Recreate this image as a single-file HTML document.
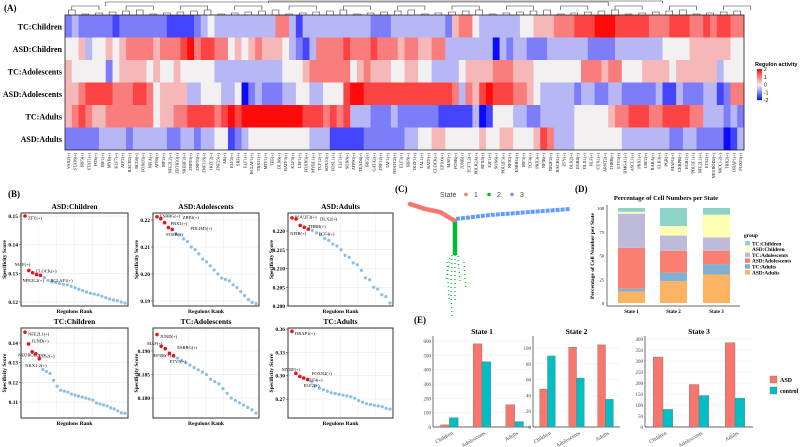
<!DOCTYPE html>
<html><head><meta charset="utf-8"><style>
html,body{margin:0;padding:0;background:#fff}
svg{display:block;font-family:"Liberation Serif",serif}
.b{font-weight:bold}
</style></head><body>
<svg id="fig" width="800" height="447" viewBox="0 0 800 447" xmlns="http://www.w3.org/2000/svg">
<g id="panelA"></g>
<g id="panelB"></g>
<g id="panelC"></g>
<g id="panelD"></g>
<g id="panelE"></g>
</svg>
<script>
// ===== Panel A data =====
const heatRows = ["TC:Children","ASD:Children","TC:Adolescents","ASD:Adolescents","TC:Adults","ASD:Adults"];
const heatCodes = [
"2322222122"+"2222211112"+"3433333333"+"3663133333"+"3333322233"+"3333332566"+"4333333445"+"5566677788"+"8777776667"+"7766767766",
"4453445456"+"6665666786"+"7766454565"+"5543213666"+"6766676665"+"6655663333"+"3330323322"+"2333333222"+"2333333344"+"4455555544",
"5444442455"+"5545445444"+"4433333333"+"3344456666"+"6645655544"+"5544333345"+"5556665554"+"4444446665"+"6644455554"+"5555553444",
"5567777666"+"7764555533"+"4443340232"+"2233443344"+"4788777777"+"7777777636"+"5787776654"+"3333323322"+"3322222311"+"3222331266",
"5676556666"+"6664556677"+"7767878888"+"8888877767"+"6733322232"+"2222211111"+"3014443322"+"3333344444"+"5667776677"+"7766333232",
"2222233332"+"3333322332"+"3344123444"+"4444443331"+"1111222222"+"3344554444"+"4544554445"+"7633344444"+"4433333332"+"2332222013"
];
const heatCols = ["VSX2(+)","STAT6(+)","IRF9(+)","STAT1(+)","FOS(+)","IRF1(+)","MYB(+)","KLF7(+)","ATF2(+)","BACH2(+)","BCL6(+)","FOXO3(+)","NFIA(+)","ATF6(+)","IRF2(+)","NFE2L2(+)","ZBTB20(+)","SREBF2(+)","ZNF83(+)","ZNF93(+)","ZNF318(+)","IKZF2(+)","ZNF25(+)","AR(+)","ELF2(+)","SRF(+)","ELF1(+)","BCLAF1(+)","TBX21(+)","MTF1(+)","TEF(+)","DLX6(+)","BATF3(+)","KLF5(+)","LEF1(+)","FOXN3(+)","MYBL1(+)","TCF12(+)","SOX10(+)","FOSL1(+)","ELF1(+)","SOX8(+)","ZFP90(+)","TEAD4(+)","IRF2(+)","GATA2(+)","ZNF12(+)","TAF1(+)","NFATC2(+)","ELF3(+)","IRF8(+)","IKZF1(+)","TAL1(+)","BATF(+)","CLOCK(+)","EP300(+)","MAF(+)","FOSB(+)","JUNB(+)","TCF7L2(+)","POLR2A(+)","RFX5(+)","E2F1(+)","SOX6(+)","POU2F3(+)","NFIC(+)","ESRRG(+)","IRF3(+)","TCF4(+)","PBX3(+)","NFIB(+)","NR2F2(+)","BACH1(+)","ZFY(+)","DLX2(+)","EGR4(+)","DLX1(+)","HLF(+)","CUX1(+)","ARNT2(+)","THRB(+)","ETV5(+)","HMGA1(+)","ASCL1(+)","PBX1(+)","USF2(+)","RARA(+)","ELK3(+)","PGR(+)","MAFG(+)","CEBPB(+)","EGR1(+)","POU3F1(+)","NFE2L1(+)","ETS2(+)","NEUROD2(+)","NKX1-2(+)","TBX2(+)","DRAP1(+)","FOXJ3(+)"];
const legendTicks = [2,1,0,-1,-2];

// ===== Panel B data =====
const bTitles = ["ASD:Children","ASD:Adolescents","ASD:Adults","TC:Children","TC:Adolescents","TC:Adults"];
const bRedNames = [
 ["ZFY(+)","MAF(+)","CLOCK(+)","NFE2L2(+)","BCLAF1(+)"],
 ["ESRRG(+)","ZBP2(+)","PBX1(+)","PDLIM5(+)","FOSB(+)"],
 ["POU2F3(+)","DLX2(+)","THRB(+)","NFIB(+)","TCF4(+)"],
 ["NFE2L1(+)","JUND(+)","NEUROD2(+)","ETS2(+)","NKX1-2(+)"],
 ["JUND(+)","MAF(+)","ESRRG(+)","EP300(+)","ETV5(+)"],
 ["DRAP1(+)","MYRF(+)","FOXN2(+)","ATF4(+)","ELF2(+)"]];
const bRedVals = [
 [0.150,0.1310,0.1302,0.1296,0.1293],
 [0.2212,0.2205,0.2190,0.2172,0.2165],
 [0.2235,0.2232,0.2215,0.2210,0.2205],
 [0.1455,0.1395,0.1355,0.1345,0.1320],
 [0.1935,0.1910,0.1905,0.1895,0.1890],
 [0.357,0.303,0.299,0.297,0.295]];
const bBlueVals = [
 [0.1285,0.1275,0.1270,0.1268,0.1265,0.1262,0.1260,0.1255,0.1250,0.1245,0.1240,0.1235,0.1230,0.1228,0.1225,0.1220,0.1215,0.1210,0.1207,0.1205,0.1200,0.1196],
 [0.2150,0.2145,0.2130,0.2120,0.2100,0.2090,0.2075,0.2055,0.2045,0.2030,0.2015,0.2000,0.1985,0.1980,0.1975,0.1960,0.1950,0.1935,0.1920,0.1905,0.1895,0.1890],
 [0.2202,0.2195,0.2190,0.2180,0.2175,0.2165,0.2160,0.2150,0.2135,0.2130,0.2115,0.2110,0.2095,0.2075,0.2070,0.2050,0.2045,0.2030,0.2025,0.2008],
 [0.1265,0.1255,0.1245,0.1210,0.1180,0.1160,0.1155,0.1150,0.1140,0.1135,0.1130,0.1125,0.1120,0.1115,0.1110,0.1095,0.1090,0.1085,0.1080,0.1070,0.1065,0.1055,0.1045,0.1043],
 [0.1885,0.1880,0.1875,0.1870,0.1865,0.1860,0.1855,0.1850,0.1840,0.1835,0.1830,0.1820,0.1810,0.1800,0.1795,0.1790,0.1785,0.1780,0.1775,0.1768],
 [0.292,0.287,0.284,0.282,0.280,0.278,0.277,0.276,0.275,0.274,0.273,0.271,0.268,0.266,0.264,0.263,0.262,0.261,0.260,0.258,0.257]];
const bTicks = [
 [0.12,0.13,0.14,0.15],[0.19,0.20,0.21,0.22],[0.200,0.205,0.210,0.215,0.220],
 [0.11,0.12,0.13,0.14],[0.180,0.185,0.190],[0.27,0.30,0.33,0.36]];
const bTickLabels = [
 ["0.12","0.13","0.14","0.15"],["0.19","0.20","0.21","0.22"],["0.200","0.205","0.210","0.215","0.220"],
 ["0.11","0.12","0.13","0.14"],["0.180","0.185","0.190"],["0.27","0.30","0.33","0.36"]];

// ===== Panel D data =====
const dStates = ["State 1","State 2","State 3"];
const dGroups = ["ASD:Adults","TC:Adults","ASD:Adolescents","TC:Adolescents","ASD:Children","TC:Children"];
const dPct = [
 [12,23,30],[3,9,11],[43,23,14],[36,16,14],[2,10,24],[4,19,7]];
const dTicks = [0,25,50,75,100];

// ===== Panel E data =====
const eStates = ["State 1","State 2","State 3"];
const eCats = ["Children","Adolescents","Adults"];
const eASD = [[15,580,155],[48,101,104],[318,193,383]];
const eControl = [[65,455,38],[90,62,35],[80,143,131]];
const eTicks = [[0,100,200,300,400,500,600],[0,20,40,60,80,100],[0,50,100,150,200,250,300,350,400]];

// ===== helpers =====
const NS="http://www.w3.org/2000/svg";
function mk(parent,tag,attrs,text){const e=document.createElementNS(NS,tag);for(const k in attrs)e.setAttribute(k,attrs[k]);if(text!==undefined)e.textContent=text;parent.appendChild(e);return e;}
function lin(d0,d1,r0,r1){return v=>r0+(v-d0)*(r1-r0)/(d1-d0);}
function heatColor(v){const t=Math.min(1,Math.abs(v)/2);
 if(v>=0){return `rgb(${Math.round(242+13*t)},${Math.round(240*(1-t)+10*t)},${Math.round(240*(1-t)+10*t)})`;}
 return `rgb(${Math.round(240*(1-t)+10*t)},${Math.round(240*(1-t)+10*t)},${Math.round(242+13*t)})`;}

// ===== Panel A =====
(function(){
 const g=document.getElementById('panelA');
 const t=mk(g,'text',{x:4,y:11,'font-size':9,'class':'b'},'(A)');
 
 
 const X0=65,X1=744,Y0=15,Y1=150;
 const nC=heatCodes[0].length, nR=heatRows.length;
 const cx=lin(0,nC,X0,X1), ry=lin(0,nR,Y0,Y1);
 const dg=mk(g,'g',{stroke:'#333','stroke-width':0.6,fill:'none'});
 
 
 for(let i=0;i<nC;i+=2){const a=cx(i+0.5),b=cx(i+1.5);const h=10+((i*7)%5);mk(dg,'path',{d:`M${a},15V${h}H${b}V15`});}
 for(let i=0;i<nC;i+=8){const a=cx(i+1),b=cx(i+5);const h=6+((i*3)%4);mk(dg,'path',{d:`M${a},${h+4}V${h}H${b}V${h+4}`});}
 mk(dg,'path',{d:`M${cx(6)},6V2H${cx(80)}V6 M${cx(30)},3V1H${cx(88)}V3`});
 heatCodes.forEach((row,r)=>{
  const lab=mk(g,'text',{x:62,y:ry(r+0.5)+3,'font-size':8,'class':'b','text-anchor':'end'},heatRows[r]);
  
  
  for(let c=0;c<nC;c++){const v=(parseInt(row[c])-4)/2;
   const cell=mk(g,'rect',{x:cx(c),y:ry(r),width:cx(c+1)-cx(c)+0.4,height:ry(r+1)-ry(r)+0.2,fill:heatColor(v)});
   
   }
 });
 mk(g,'rect',{x:X0,y:Y0,width:X1-X0,height:Y1-Y0,fill:'none',stroke:'#222','stroke-width':0.8});
 heatCols.forEach((n,c)=>{const x=cx(c+0.5)+1.5;
  const tl=mk(g,'text',{x:x,y:153,'font-size':4.3,'text-anchor':'end',transform:`rotate(-90 ${x} 153)`},n);
  
  });
 const lg=mk(g,'g',{});
 
 
 mk(lg,'text',{x:755,y:66,'font-size':5.5,'font-family':'Liberation Sans,sans-serif','font-weight':'bold'},'Regulon activity');
 const ly=lin(2,-2,69,100);
 for(let i=0;i<30;i++){const v=2-4*i/30;mk(lg,'rect',{x:757,y:ly(v),width:5,height:1.2,fill:heatColor(v)});}
 legendTicks.forEach(v=>mk(lg,'text',{x:764,y:ly(v)+2,'font-size':5,'font-family':'Liberation Sans,sans-serif'},String(v)));
})();

// ===== Panel B =====
(function(){
 const g=document.getElementById('panelB');
 const l=mk(g,'text',{x:8,y:197,'font-size':9,'class':'b'},'(B)');
 
 
 const boxes=[[21,128,213,306],[153,259,213,306],[288,393,213,306],[21,128,328,418],[153,259,328,418],[288,393,328,418]];
 const cal=[[0.15,216,0.12,302],[0.22,220,0.19,301],[0.220,231,0.200,306],[0.14,343,0.11,402],[0.190,351,0.180,398],[0.36,329,0.27,399]];
 const lblOff=[[[3,2],[-14,-6],[3,-2],[-14,6],[10,5]],[[3,-1],[22,-1],[6,1],[22,1],[-6,5]],[[3,-1],[24,0],[8,1],[-14,6],[10,5]],[[3,2],[3,-3],[-14,3],[3,2],[-14,7]],[[3,2],[-14,-3],[12,-1],[-16,2],[-4,6]],[[3,2],[-14,-4],[12,-3],[3,2],[-4,6]]];
 boxes.forEach((bx,p)=>{
  const [x0,x1,y0,y1]=bx;
  const pg=mk(g,'g',{});
  
  
  const ys=lin(cal[p][0],cal[p][2],cal[p][1],cal[p][3]);
  for(let k=1;k<6;k++)mk(pg,'line',{x1:x0+(x1-x0)*k/6,x2:x0+(x1-x0)*k/6,y1:y0,y2:y1,stroke:'#eee','stroke-width':0.5});
  bTicks[p].forEach((v,i)=>{const y=ys(v);
   mk(pg,'line',{x1:x0,x2:x1,y1:y,y2:y,stroke:'#e6e6e6','stroke-width':0.5});
   mk(pg,'line',{x1:x0-2,x2:x0,y1:y,y2:y,stroke:'#333','stroke-width':0.5});
   mk(pg,'text',{x:x0-3,y:y+2,'font-size':5.5,'class':'b','text-anchor':'end'},bTickLabels[p][i]);});
  mk(pg,'text',{x:(x0+x1)/2,y:y0-4,'font-size':7.5,'class':'b','text-anchor':'middle'},bTitles[p]);
  mk(pg,'text',{x:(x0+x1)/2,y:y1+7,'font-size':5.5,'class':'b','text-anchor':'middle'},'Regulons Rank');
  const yl=(y0+y1)/2;
  mk(pg,'text',{x:x0-15,y:yl,'font-size':5.5,'class':'b','text-anchor':'middle',transform:`rotate(-90 ${x0-15} ${yl})`},'Specificity Score');
  const n=bRedVals[p].length+bBlueVals[p].length;
  const xs=lin(0,n-1,x0+4,x1-3);
  bBlueVals[p].forEach((v,i)=>{const c=mk(pg,'circle',{cx:xs(i+bRedVals[p].length),cy:ys(v),r:1.6,fill:'#8cbfe3'});
   
   });
  bRedVals[p].forEach((v,i)=>{const px=xs(i),py=ys(v);
   const c=mk(pg,'circle',{cx:px,cy:py,r:1.8,fill:'#e8141c'});
   
   
   const o=lblOff[p][i];
   mk(pg,'text',{x:px+o[0],y:py+o[1]+1.5,'font-size':4.5},bRedNames[p][i]);});
  mk(pg,'rect',{x:x0,y:y0,width:x1-x0,height:y1-y0,fill:'none',stroke:'#333','stroke-width':1});
 });
})();

// ===== Panel C =====
(function(){
 const g=document.getElementById('panelC');
 const l=mk(g,'text',{x:395,y:192,'font-size':9,'class':'b'},'(C)');
 
 
 const lg=mk(g,'g',{'font-family':'Liberation Sans,sans-serif','font-size':7,fill:'#444'});
 
 
 mk(lg,'text',{x:440,y:197},'State');
 [['#f8766d',466,'1'],['#00ba38',489,'2'],['#619cff',512,'3']].forEach(s=>{mk(lg,'circle',{cx:s[1],cy:194.5,r:1.8,fill:s[0]});mk(lg,'text',{x:s[1]+8,y:197},s[2]);});
 const r=mk(g,'path',{d:'M410,204 L425,209 L440,212 L455,221',stroke:'#f8766d','stroke-width':4.5,fill:'none','stroke-linecap':'round'});
 
 
 const b=mk(g,'path',{d:'M456,219 L490,215 L530,212 L570,209',stroke:'#619cff','stroke-width':4,fill:'none','stroke-dasharray':'4 1'});
 
 
 const gr=mk(g,'path',{d:'M455,222 L455,255',stroke:'#00ba38','stroke-width':4.5,fill:'none'});
 
 
 const gs=mk(g,'path',{d:'M452,255 L451,290 L452,318 M458,256 L460,282 M447,262 L449,300 M464,262 L466,290 M455,255 L455,300 M450,258 L446,280',stroke:'#00ba38','stroke-width':1.3,fill:'none','stroke-dasharray':'1 3'});
 
 
})();

// ===== Panel D =====
(function(){
 const g=document.getElementById('panelD');
 const l=mk(g,'text',{x:575,y:192,'font-size':9,'class':'b'},'(D)');
 
 
 mk(g,'text',{x:666,y:200,'font-size':6.5,'class':'b','text-anchor':'middle'},'Percentage of Cell Numbers per State');
 const ys=lin(0,100,303,208);
 const colors=['#fdb462','#80b1d3','#fb8072','#bebada','#ffffb3','#8dd3c7'];
 const bx=[618,660,703],bw=27;
 mk(g,'line',{x1:607,x2:607,y1:205,y2:306,stroke:'#333','stroke-width':0.7});
 mk(g,'line',{x1:607,x2:740,y1:306,y2:306,stroke:'#333','stroke-width':0.7});
 dTicks.forEach(v=>mk(g,'text',{x:604,y:ys(v)+2,'font-size':4.5,'text-anchor':'end'},String(v)));
 mk(g,'text',{x:594,y:256,'font-size':5.5,'class':'b','text-anchor':'middle',transform:'rotate(-90 594 256)'},'Percentage of Cell Number per State');
 dStates.forEach((s,si)=>{let acc=0;
  dGroups.forEach((gname,gi)=>{const v=dPct[gi][si];
   const rc=mk(g,'rect',{x:bx[si],y:ys(acc+v),width:bw,height:ys(acc)-ys(acc+v),fill:colors[gi]});
   
   
   acc+=v;});
  mk(g,'text',{x:bx[si]+bw/2,y:313,'font-size':5,'class':'b','text-anchor':'middle'},s);});
 const lg=mk(g,'g',{});
 
 
 mk(lg,'text',{x:744,y:237,'font-size':5.5,'class':'b'},'group');
 const order=[5,4,3,2,1,0];
 order.forEach((gi,k)=>{const y=241+k*5.8;mk(lg,'rect',{x:745,y:y,width:5,height:4.5,fill:colors[gi]});
  mk(lg,'text',{x:752,y:y+4.3,'font-size':5.3,'class':'b'},dGroups[gi]);});
})();

// ===== Panel E =====
(function(){
 const g=document.getElementById('panelE');
 const l=mk(g,'text',{x:414,y:323,'font-size':9,'class':'b'},'(E)');
 
 
 const plots=[[433,531,600,341],[533,620,100,348],[645,753,400,339]];
 plots.forEach((pl,p)=>{
  const [x0,x1,vmax,ytop]=pl;
  const pg=mk(g,'g',{});
  
  
  const ys=lin(0,vmax,427,ytop);
  eTicks[p].forEach(v=>{const y=ys(v);
   mk(pg,'line',{x1:x0,x2:x1,y1:y,y2:y,stroke:'#eee','stroke-width':0.5});
   mk(pg,'text',{x:x0-2,y:y+2,'font-size':5,fill:'#444','text-anchor':'end'},String(v));});
  mk(pg,'line',{x1:x0,x2:x0,y1:336,y2:427,stroke:'#333','stroke-width':0.7});
  mk(pg,'line',{x1:x0,x2:x1,y1:427,y2:427,stroke:'#333','stroke-width':0.7});
  mk(pg,'text',{x:(x0+x1)/2,y:334,'font-size':7.5,'class':'b','text-anchor':'middle'},eStates[p]);
  const step=(x1-x0)/3,bw=step*0.27;
  eCats.forEach((c,ci)=>{const xc=x0+step*(ci+0.5);
   const a=mk(pg,'rect',{x:xc-bw,y:ys(eASD[p][ci]),width:bw,height:427-ys(eASD[p][ci]),fill:'#f8766d',stroke:'#777','stroke-width':0.4});
   
   
   const b=mk(pg,'rect',{x:xc,y:ys(eControl[p][ci]),width:bw,height:427-ys(eControl[p][ci]),fill:'#00bfc4',stroke:'#777','stroke-width':0.4});
   
   
   mk(pg,'text',{x:xc+4,y:434,'font-size':5.5,fill:'#444','text-anchor':'end',transform:`rotate(-30 ${xc+4} 434)`},c);});
 });
 const lg=mk(g,'g',{});
 
 
 mk(lg,'rect',{x:770,y:376,width:7,height:7,fill:'#f8766d',stroke:'#777','stroke-width':0.4});
 mk(lg,'text',{x:780,y:382,'font-size':6,'class':'b'},'ASD');
 mk(lg,'rect',{x:770,y:387,width:7,height:7,fill:'#00bfc4',stroke:'#777','stroke-width':0.4});
 mk(lg,'text',{x:780,y:393,'font-size':6,'class':'b'},'control');
})();
</script>
</body></html>
